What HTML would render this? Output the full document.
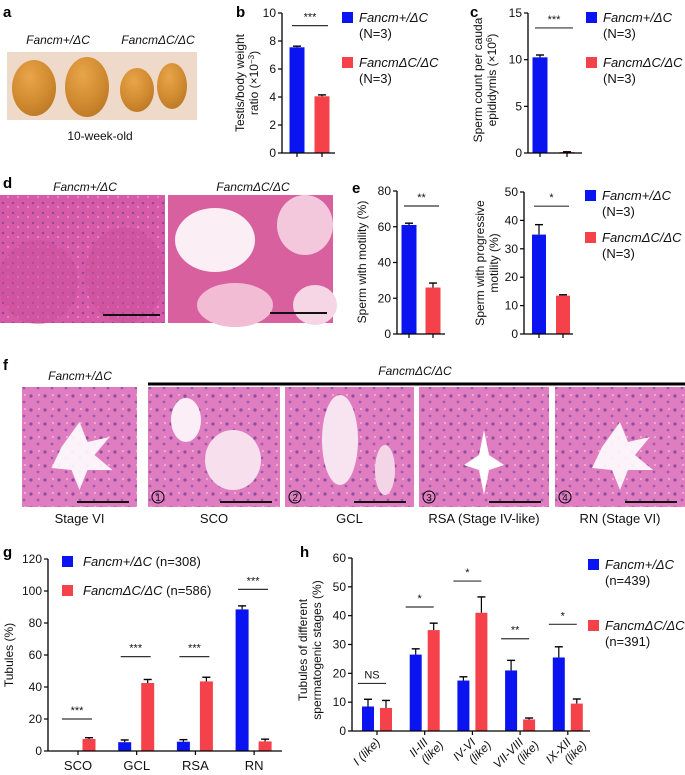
<!DOCTYPE html>
<html><head><meta charset="utf-8">
<style>
html,body{margin:0;padding:0;background:#fff;}
svg{display:block;font-family:"Liberation Sans",Arial,sans-serif;}
.t{font-size:12px;fill:#111;}
.it{font-style:italic;}
.lt{font-size:15px;font-weight:bold;fill:#000;}
</style></head>
<body>
<svg id="fig" width="685" height="775" viewBox="0 0 685 775" xmlns="http://www.w3.org/2000/svg">
<defs>
<radialGradient id="testis" cx="0.4" cy="0.3" r="0.8"><stop offset="0" stop-color="#e9a54a"/><stop offset="0.6" stop-color="#d08a30"/><stop offset="1" stop-color="#b87424"/></radialGradient>
<pattern id="he" width="14" height="14" patternUnits="userSpaceOnUse"><rect width="14" height="14" fill="#e07cc0"/><circle cx="3" cy="4" r="1.6" fill="#8a4fa0"/><circle cx="10" cy="10" r="1.4" fill="#9a5cae"/><circle cx="11" cy="3" r="1" fill="#f2b6dc"/></pattern>
<pattern id="he2" width="10" height="10" patternUnits="userSpaceOnUse"><rect width="10" height="10" fill="#d65aa8"/><circle cx="3" cy="3" r="1.2" fill="#8c4a98"/><circle cx="8" cy="7" r="1" fill="#e890c8"/></pattern>
</defs>

<!-- Panel a -->
<g>
<text x="3" y="17" class="lt">a</text>
<text x="58" y="44" class="t it" text-anchor="middle">Fancm+/ΔC</text>
<text x="158" y="44" class="t it" text-anchor="middle">FancmΔC/ΔC</text>
<rect x="7" y="52" width="190" height="68" fill="#efd9c8"/>
<ellipse cx="34" cy="88" rx="22" ry="28" fill="url(#testis)"/>
<ellipse cx="87" cy="87" rx="22" ry="30" fill="url(#testis)"/>
<ellipse cx="137" cy="90" rx="17" ry="22" fill="url(#testis)"/>
<ellipse cx="172" cy="86" rx="15" ry="23" fill="url(#testis)"/>
<text x="100" y="140" class="t" text-anchor="middle">10-week-old</text>
</g>

<!-- Panel d -->
<g>
<text x="3" y="188" class="lt">d</text>
<text x="85" y="191" class="t it" text-anchor="middle">Fancm+/ΔC</text>
<text x="253" y="191" class="t it" text-anchor="middle">FancmΔC/ΔC</text>
<rect x="0" y="195" width="165" height="128" fill="url(#he2)"/>
<ellipse cx="38" cy="282" rx="40" ry="42" fill="#c94d98" opacity="0.5"/>
<ellipse cx="125" cy="275" rx="40" ry="48" fill="#c94d98" opacity="0.5"/>
<rect x="168" y="195" width="165" height="128" fill="#d9609e"/>
<ellipse cx="215" cy="240" rx="40" ry="32" fill="#fbeef5"/>
<ellipse cx="305" cy="225" rx="28" ry="30" fill="#f3c8dc"/>
<ellipse cx="235" cy="305" rx="38" ry="22" fill="#f1bcd4"/>
<ellipse cx="315" cy="305" rx="22" ry="20" fill="#f6d5e4"/>
<line x1="103" y1="315" x2="160" y2="315" stroke="#111" stroke-width="2"/>
<line x1="270" y1="313" x2="327" y2="313" stroke="#111" stroke-width="2"/>
</g>

<!-- Panel f -->
<g>
<text x="3" y="370" class="lt">f</text>
<text x="80" y="380" class="t it" text-anchor="middle">Fancm+/ΔC</text>
<text x="415" y="375" class="t it" text-anchor="middle">FancmΔC/ΔC</text>
<line x1="148" y1="384" x2="685" y2="384" stroke="#000" stroke-width="3"/>
<g id="fphotos"></g>
</g>

<g id="charts"></g>
</svg>

<script>
// ---- Chart data ----
// b
const bCats = ["Fancm+/ΔC", "FancmΔC/ΔC"];
const bValues = [7.55, 4.05];
const bErrors = [0.08, 0.1];
const bTicks = [0, 2, 4, 6, 8, 10];
// c
const cValues = [10.25, 0.1];
const cErrors = [0.25, 0.03];
const cTicks = [0, 5, 10, 15];
// e (motility)
const e1Values = [61, 26];
const e1Errors = [1, 2.5];
const e1Ticks = [0, 20, 40, 60, 80];
// e (progressive motility)
const e2Values = [35, 13.5];
const e2Errors = [3.5, 0.3];
const e2Ticks = [0, 10, 20, 30, 40, 50];
// g
const gCategories = ["SCO", "GCL", "RSA", "RN"];
const gHet = [0, 5.5, 5.8, 88.5];
const gHetErr = [0, 1.4, 1.3, 2.2];
const gMut = [7.5, 42.5, 43.5, 6];
const gMutErr = [0.8, 2.2, 2.6, 1.4];
const gTicks = [0, 20, 40, 60, 80, 100, 120];
const gSig = ["***", "***", "***", "***"];
const gSigLevel = [20, 59, 59, 101];
// h
const hCategories = [["I (like)"], ["II-III", "(like)"], ["IV-VI", "(like)"], ["VII-VIII", "(like)"], ["IX-XII", "(like)"]];
const hHet = [8.5, 26.5, 17.5, 21, 25.5];
const hHetErr = [2.5, 2, 1.3, 3.5, 3.7];
const hMut = [8, 35, 41, 4, 9.5];
const hMutErr = [2.6, 2.4, 5.5, 0.5, 1.6];
const hTicks = [0, 10, 20, 30, 40, 50, 60];
const hSig = ["NS", "*", "*", "**", "*"];
const hSigLevel = [16.5, 43, 52, 32, 37];

const NS = "http://www.w3.org/2000/svg";
const BLUE = "#0a14f0", RED = "#f5424a";
const root = document.getElementById("charts");
function el(tag, attrs, parent, txt) {
  const e = document.createElementNS(NS, tag);
  for (const k in attrs) e.setAttribute(k, attrs[k]);
  if (txt !== undefined) e.textContent = txt;
  (parent || root).appendChild(e);
  return e;
}
function scaleY(y0, y1, vmax) { return v => y0 - (y0 - y1) * v / vmax; }

function yAxis(g, ax, sy, ticks, y0) {
  const a = el("line", {x1: ax, y1: sy(ticks[ticks.length - 1]), x2: ax, y2: y0, stroke: "#000", "stroke-width": 1.3}, g);
  
  
  ticks.forEach(t => {
    el("line", {x1: ax - 4, y1: sy(t), x2: ax, y2: sy(t), stroke: "#000", "stroke-width": 1.2}, g);
    const tl = el("text", {x: ax - 6, y: sy(t) + 4, class: "t", "text-anchor": "end"}, g, String(t));
    
    
  });
}
function bar(g, cx, w, sy, v, err, color, name) {
  const y0 = sy(0), y = sy(v);
  const r = el("rect", {x: cx - w / 2, y: y, width: w, height: Math.max(0.5, y0 - y), fill: color}, g);
  
  
  if (err > 0) {
    const ye = sy(v + err);
    el("line", {x1: cx, y1: ye, x2: cx, y2: y, stroke: "#000", "stroke-width": 1.2}, g);
    el("line", {x1: cx - 4, y1: ye, x2: cx + 4, y2: ye, stroke: "#000", "stroke-width": 1.4}, g);
  }
}
function sig(g, x1, x2, y, label) {
  const l = el("line", {x1: x1, y1: y, x2: x2, y2: y, stroke: "#333", "stroke-width": 1.2}, g);
  
  
  const t = el("text", {x: (x1 + x2) / 2, y: y - 5, class: "t", "text-anchor": "middle", style: "font-size:11px"}, g, label);
  
  
}
function rotTitle(g, x, cy, lines, name) {
  const t = el("text", {transform: `translate(${x},${cy}) rotate(-90)`, class: "t", "text-anchor": "middle"}, g);
  
  
  lines.forEach((ln, i) => {
    const ts = el("tspan", {x: 0, dy: i === 0 ? 0 : 14}, t);
    ts.innerHTML = ln;
  });
}
function legend2(g, x, y, gap, sub) {
  [[BLUE, "Fancm+/ΔC"], [RED, "FancmΔC/ΔC"]].forEach((p, i) => {
    const yy = y + i * gap;
    const s = el("rect", {x: x, y: yy, width: 11, height: 11, fill: p[0]}, g);
    
    
    const t = el("text", {x: x + 17, y: yy + 10, class: "t it", style: "font-size:13px"}, g, p[1]);
    
    
    el("text", {x: x + 17, y: yy + 26, class: "t", style: "font-size:13px"}, g, sub[i]);
  });
}
function twoBar(name, ax, y0, y1, ticks, vals, errs, cxs, w, xend, sigY, sigLab) {
  const g = el("g", {});
  
  
  const sy = scaleY(y0, y1, ticks[ticks.length - 1]);
  vals.forEach((v, i) => bar(g, cxs[i], w, sy, v, errs[i], i ? RED : BLUE, i ? 'bar-mutant' : 'bar-het'));
  yAxis(g, ax, sy, ticks, y0);
  el("line", {x1: ax, y1: y0, x2: xend, y2: y0, stroke: "#000", "stroke-width": 1.3}, g);
  cxs.forEach(c => el("line", {x1: c, y1: y0, x2: c, y2: y0 + 4, stroke: "#000", "stroke-width": 1.2}, g));
  sig(g, cxs[0] - 5, cxs[1] + 6, sy(sigY), sigLab);
  return g;
}

// b
const gb = twoBar("chart-b-testis-ratio", 282, 153, 13, bTicks, bValues, bErrors, [297, 322], 15, 335, 9.1, "***");
el("text", {x: 236, y: 17, class: "lt"}, gb, "b");
rotTitle(gb, 244, 83, ["Testis/body weight", "ratio (×10<tspan baseline-shift='super' font-size='8'>−3</tspan>)"], "y-axis-title-b");
legend2(gb, 342, 12, 45, ["(N=3)", "(N=3)"]);
// c
const gc = twoBar("chart-c-sperm-count", 528, 153, 13, cTicks, cValues, cErrors, [540, 567], 15, 582, 13.4, "***");
el("text", {x: 470, y: 17, class: "lt"}, gc, "c");
rotTitle(gc, 482, 80, ["Sperm count per cauda", "epididymis (×10<tspan baseline-shift='super' font-size='8'>6</tspan>)"], "y-axis-title-c");
legend2(gc, 586, 12, 45, ["(N=3)", "(N=3)"]);
// e1
const ge1 = twoBar("chart-e-motility", 397, 334, 191, e1Ticks, e1Values, e1Errors, [409, 433], 15, 445, 71.6, "**");
el("text", {x: 352, y: 193, class: "lt"}, ge1, "e");
rotTitle(ge1, 366, 262, ["Sperm with motility (%)"], "y-axis-title-e1");
// e2
const ge2 = twoBar("chart-e-progressive", 524, 334, 192, e2Ticks, e2Values, e2Errors, [539, 563], 14, 573, 45, "*");
rotTitle(ge2, 484, 263, ["Sperm with progressive", "motility (%)"], "y-axis-title-e2");
legend2(ge2, 585, 190, 42, ["(N=3)", "(N=3)"]);

// g
(function () {
  const g = el("g", {});
  
  
  const ax = 48, y0 = 751, y1 = 559, cx0 = 78, step = 58.7;
  const sy = scaleY(y0, y1, 120);
  gCategories.forEach((c, i) => {
    const cx = cx0 + i * step;
    if (gHet[i] > 0) bar(g, cx - 12, 13, sy, gHet[i], gHetErr[i], BLUE, 'bar-het-' + c.toLowerCase());
    bar(g, cx + 11, 13, sy, gMut[i], gMutErr[i], RED, 'bar-mutant-' + c.toLowerCase());
    el("line", {x1: cx, y1: y0, x2: cx, y2: y0 + 4, stroke: "#000", "stroke-width": 1.2}, g);
    const t = el("text", {x: cx, y: y0 + 19, class: "t", "text-anchor": "middle", style: "font-size:13px"}, g, c);
    
    
    sig(g, cx - 16, cx + 14, sy(gSigLevel[i]), gSig[i]);
  });
  yAxis(g, ax, sy, gTicks, y0);
  el("line", {x1: ax, y1: y0, x2: 282, y2: y0, stroke: "#000", "stroke-width": 1.3}, g);
  el("text", {x: 3, y: 557, class: "lt"}, g, "g");
  rotTitle(g, 13, 655, ["Tubules (%)"], "y-axis-title-g");
  const items = [[BLUE, "Fancm+/ΔC", " (n=308)"], [RED, "FancmΔC/ΔC", " (n=586)"]];
  items.forEach((p, i) => {
    const yy = 556 + i * 29;
    const s = el("rect", {x: 62, y: yy, width: 11, height: 11, fill: p[0]}, g);
    
    
    const t = el("text", {x: 83, y: yy + 10, class: "t", style: "font-size:13px"}, g);
    
    
    el("tspan", {"font-style": "italic"}, t, p[1]);
    el("tspan", {}, t, p[2]);
  });
})();

// h
(function () {
  const g = el("g", {});
  
  
  const ax = 352, y0 = 731, y1 = 558, cx0 = 377, step = 47.7;
  const sy = scaleY(y0, y1, 60);
  hCategories.forEach((c, i) => {
    const cx = cx0 + i * step;
    bar(g, cx - 9, 12, sy, hHet[i], hHetErr[i], BLUE, 'bar-het-stage-' + i);
    bar(g, cx + 9, 12, sy, hMut[i], hMutErr[i], RED, 'bar-mutant-stage-' + i);
    el("line", {x1: cx, y1: y0, x2: cx, y2: y0 + 4, stroke: "#000", "stroke-width": 1.2}, g);
    const t = el("text", {transform: `translate(${cx + 4},${y0 + 12}) rotate(-45)`, class: "t", "text-anchor": "end"}, g);
    
    
    c.forEach((ln, j) => el("tspan", {x: j * 9, dy: j ? 13 : 0, "font-style": "italic"}, t, ln));
    sig(g, cx - 19, cx + 9, sy(hSigLevel[i]), hSig[i]);
  });
  yAxis(g, ax, sy, hTicks, y0);
  el("line", {x1: ax, y1: y0, x2: 590, y2: y0, stroke: "#000", "stroke-width": 1.3}, g);
  el("text", {x: 300, y: 557, class: "lt"}, g, "h");
  rotTitle(g, 307, 650, ["Tubules of different", "spermatogenic stages (%)"], "y-axis-title-h");
  legend2(g, 588, 559, 61, ["(n=439)", "(n=391)"]);
})();

// f photos
(function () {
  const fp = document.getElementById("fphotos");
  const xs = [22, 148, 285, 419, 555];
  const ws = [115, 132, 129, 130, 130];
  const caps = ["Stage VI", "SCO", "GCL", "RSA (Stage IV-like)", "RN (Stage VI)"];
  xs.forEach((x, i) => {
    const r = el("rect", {x: x, y: 387, width: ws[i], height: 120, fill: "url(#he)"}, fp);
    
    
    if (i === 0 || i === 4) el("path", {d: `M${x + ws[i] / 2 - 18} ${447} l18 -25 l8 20 l22 -5 l-15 18 l18 15 l-25 0 l-8 20 l-8 -20 l-20 -2 z`, fill: "#fff", opacity: 0.9}, fp);
    if (i === 1) { el("ellipse", {cx: x + 38, cy: 420, rx: 15, ry: 22, fill: "#fbeef6"}, fp); el("ellipse", {cx: x + 85, cy: 460, rx: 28, ry: 30, fill: "#f7dfee"}, fp); }
    if (i === 2) { el("ellipse", {cx: x + 55, cy: 440, rx: 18, ry: 45, fill: "#f8e4f0"}, fp); el("ellipse", {cx: x + 100, cy: 470, rx: 10, ry: 25, fill: "#f4d5e8"}, fp); }
    if (i === 3) el("path", {d: `M${x + 65} 430 l5 25 l15 10 l-15 5 l-5 25 l-5 -25 l-15 -5 l15 -10 z`, fill: "#fff"}, fp);
    el("line", {x1: x + ws[i] - 60, y1: 502, x2: x + ws[i] - 8, y2: 502, stroke: "#111", "stroke-width": 2}, fp);
    if (i > 0) {
      el("circle", {cx: x + 10, cy: 497, r: 6, fill: "none", stroke: "#000", "stroke-width": 1}, fp);
      el("text", {x: x + 10, y: 501, "text-anchor": "middle", class: "t", style: "font-size:10px"}, fp, String(i));
    }
    const t = el("text", {x: x + ws[i] / 2, y: 523, class: "t", "text-anchor": "middle", style: "font-size:13px"}, fp, caps[i]);
    
    
  });
})();
</script>
</body></html>
